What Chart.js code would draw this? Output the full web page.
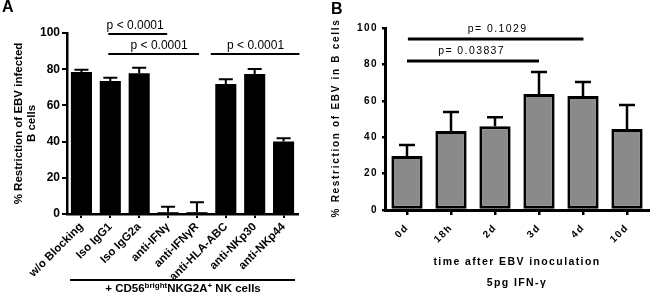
<!DOCTYPE html>
<html>
<head>
<meta charset="utf-8">
<script src="https://cdn.jsdelivr.net/npm/chart.js@4.4.1/dist/chart.umd.min.js"></script>
<style>
  html, body { margin: 0; padding: 0; background: #fff; }
  #wrap { position: relative; width: 650px; height: 294px; overflow: hidden; }
  .panel { position: absolute; top: 0; width: 325px; height: 294px; }
  #pa { left: 0; }
  #pb { left: 325px; }
  .tag { position: absolute; font: bold 16px "Liberation Sans", Arial, sans-serif; color: #000; }
</style>
</head>
<body>
<div id="wrap">
  <div class="panel" id="pa"><canvas id="chartA" width="325" height="294"></canvas></div>
  <div class="panel" id="pb"><canvas id="chartB" width="325" height="294"></canvas></div>
  <div class="tag" style="left:2px;top:-2px">A</div>
  <div class="tag" style="left:331px;top:0px">B</div>
</div>
<script>
// panel A: blocking antibodies
var blockLabels = ['w/o Blocking', 'Iso IgG1', 'Iso IgG2a', 'anti-IFN\u03b3', 'anti-IFN\u03b3R', 'anti-HLA-ABC', 'anti-NKp30', 'anti-NKp44'];
var blockMeans = [78.5, 73.5, 77.8, 1.0, 1.0, 71.8, 77.3, 40.0];
var blockErrors = [1.2, 1.8, 3.0, 3.0, 5.5, 2.6, 2.8, 1.8];
var blockPValues = ['p < 0.0001', 'p < 0.0001', 'p < 0.0001'];

// panel B: IFN-gamma added at time points
var timeLabels = ['0d', '18h', '2d', '3d', '4d', '10d'];
var timeMeans = [29.7, 43.4, 46.0, 63.7, 62.6, 44.5];
var timeErrors = [6.0, 10.4, 5.0, 12.1, 7.7, 13.2];
var timePValues = ['p= 0.1029', 'p= 0.03837'];

var yTicks = [0, 20, 40, 60, 80, 100];

Chart.defaults.font.family = '"Liberation Sans", Arial, sans-serif';
Chart.defaults.color = '#000';

function errorBars(errs, cap, lw) {
    return {
        id: 'errorBars',
        afterDatasetsDraw: function(chart) {
            var ctx = chart.ctx,
                y = chart.scales.y,
                vals = chart.data.datasets[0].data;
            ctx.save();
            ctx.strokeStyle = '#000';
            ctx.lineWidth = lw;
            chart.getDatasetMeta(0).data.forEach(function(bar, i) {
                var top = y.getPixelForValue(vals[i] + errs[i]);
                ctx.beginPath();
                ctx.moveTo(bar.x, bar.y);
                ctx.lineTo(bar.x, top);
                ctx.moveTo(bar.x - cap / 2, top);
                ctx.lineTo(bar.x + cap / 2, top);
                ctx.stroke();
            });
            ctx.restore();
        }
    };
}

// from/to/textAt are category positions, at is the y value of the line
function brackets(texts, spots, font, lw, gap) {
    return {
        id: 'brackets',
        afterDraw: function(chart) {
            var ctx = chart.ctx, x = chart.scales.x, y = chart.scales.y;
            ctx.save();
            ctx.strokeStyle = '#000';
            ctx.fillStyle = '#000';
            ctx.lineWidth = lw;
            ctx.font = font;
            ctx.textAlign = 'center';
            ctx.textBaseline = 'middle';
            spots.forEach(function(s, i) {
                var py = y.getPixelForValue(s.at);
                ctx.beginPath();
                ctx.moveTo(x.getPixelForValue(s.from), py);
                ctx.lineTo(x.getPixelForValue(s.to), py);
                ctx.stroke();
                ctx.fillText(texts[i], x.getPixelForValue(s.textAt), py - gap);
            });
            ctx.restore();
        }
    };
}

var groupLine = {
    id: 'groupLine',
    afterDraw: function(chart) {
        var ctx = chart.ctx,
            parts = [['+ CD56', 11.5, 0], ['bright', 8, -4], ['NKG2A', 11.5, 0], ['+', 8, -4], [' NK cells', 11.5, 0]],
            total = 0, x;
        ctx.save();
        ctx.strokeStyle = '#000';
        ctx.lineWidth = 2;
        ctx.beginPath();
        ctx.moveTo(70, 280);
        ctx.lineTo(295, 280);
        ctx.stroke();
        ctx.fillStyle = '#000';
        ctx.textBaseline = 'alphabetic';
        parts.forEach(function(p) {
            ctx.font = 'bold ' + p[1] + 'px "Liberation Sans", Arial, sans-serif';
            total += ctx.measureText(p[0]).width;
        });
        x = 183 - total / 2;
        parts.forEach(function(p) {
            ctx.font = 'bold ' + p[1] + 'px "Liberation Sans", Arial, sans-serif';
            ctx.fillText(p[0], x, 292 + p[2]);
            x += ctx.measureText(p[0]).width;
        });
        ctx.restore();
    }
};

// panel B uses spaced lettering everywhere
var spaced = {
    id: 'spaced',
    beforeDraw: function(chart) {
        chart.ctx.letterSpacing = '1.4px';
    },
    afterDraw: function(chart) {
        var ctx = chart.ctx;
        ctx.save();
        ctx.letterSpacing = '1.7px';
        ctx.font = 'bold 10px "Liberation Sans", Arial, sans-serif';
        ctx.fillStyle = '#000';
        ctx.textAlign = 'center';
        ctx.textBaseline = 'middle';
        ctx.translate(11, 118);
        ctx.rotate(-Math.PI / 2);
        ctx.fillText('% Restriction of EBV in B cells', 0, 0);
        ctx.restore();
    }
};

function setTicks(s) {
    s.ticks = yTicks.map(function(v) { return { value: v }; });
}

new Chart(document.getElementById('chartA'), {
    type: 'bar',
    data: {
        labels: blockLabels,
        datasets: [{
            data: blockMeans,
            backgroundColor: '#000',
            borderWidth: 0,
            categoryPercentage: 0.73,
            barPercentage: 1
        }]
    },
    options: {
        responsive: false,
        animation: false,
        layout: { padding: { top: 33, right: 27, left: 0, bottom: 0 } },
        plugins: { legend: { display: false }, tooltip: { enabled: false } },
        scales: {
            x: {
                grid: { offset: false, drawOnChartArea: false, color: '#000', lineWidth: 2, tickLength: 4 },
                border: { color: '#000', width: 2.5 },
                ticks: { font: { size: 11.5, weight: 'bold' }, minRotation: 45, maxRotation: 45, autoSkip: false, padding: 2 },
                afterFit: function(s) { s.height = 80; }
            },
            y: {
                min: 0,
                max: 100,
                afterBuildTicks: setTicks,
                grid: { drawOnChartArea: false, color: '#000', lineWidth: 2, tickLength: 5 },
                border: { color: '#000', width: 2.5 },
                ticks: { font: { size: 12, weight: 'bold' }, padding: 2 },
                title: {
                    display: true,
                    text: ['% Restriction of EBV infected', 'B cells'],
                    font: { size: 11.5, weight: 'bold', lineHeight: 1.1 },
                    padding: { top: 13, bottom: 0 }
                },
                afterFit: function(s) { s.width = 67; }
            }
        }
    },
    plugins: [
        errorBars(blockErrors, 14, 2),
        brackets(blockPValues, [
            { from: 0.93, to: 2.97, at: 99.4, textAt: 1.86 },
            { from: 0.93, to: 4.07, at: 88.4, textAt: 2.69 },
            { from: 4.48, to: 7.55, at: 88.4, textAt: 6.03 }
        ], '12px "Liberation Sans", Arial, sans-serif', 2, 8),
        groupLine
    ]
});

new Chart(document.getElementById('chartB'), {
    type: 'bar',
    data: {
        labels: timeLabels,
        datasets: [{
            data: timeMeans,
            backgroundColor: '#8a8a8a',
            borderColor: '#000',
            borderWidth: 3,
            borderSkipped: false,
            categoryPercentage: 0.71,
            barPercentage: 1
        }]
    },
    options: {
        responsive: false,
        animation: false,
        layout: { padding: { top: 28, right: 1, left: 0, bottom: 0 } },
        plugins: { legend: { display: false }, tooltip: { enabled: false } },
        scales: {
            x: {
                grid: { offset: false, drawOnChartArea: false, color: '#000', lineWidth: 2.5, tickLength: 5 },
                border: { color: '#000', width: 3 },
                ticks: { font: { size: 10, weight: 'bold' }, minRotation: 45, maxRotation: 45, autoSkip: false, padding: 7 },
                title: {
                    display: true,
                    text: ['time after EBV inoculation', '5pg IFN-\u03b3'],
                    font: { size: 10.5, weight: 'bold', lineHeight: '21px' },
                    padding: { top: 0, bottom: 0.5 }
                },
                afterFit: function(s) { s.height = 84; }
            },
            y: {
                min: 0,
                max: 100,
                afterBuildTicks: setTicks,
                grid: { drawOnChartArea: false, color: '#000', lineWidth: 2.5, tickLength: 3 },
                border: { color: '#000', width: 3 },
                ticks: { font: { size: 10, weight: 'bold' }, padding: 4 },
                afterFit: function(s) { s.width = 60; }
            }
        }
    },
    plugins: [
        spaced,
        errorBars(timeErrors, 16, 2.5),
        brackets(timePValues, [
            { from: 0.02, to: 4.01, at: 94, textAt: 2.06 },
            { from: 0, to: 3.0, at: 81.9, textAt: 1.47 }
        ], '10.5px "Liberation Sans", Arial, sans-serif', 3, 9.5)
    ]
});
</script>
</body>
</html>
